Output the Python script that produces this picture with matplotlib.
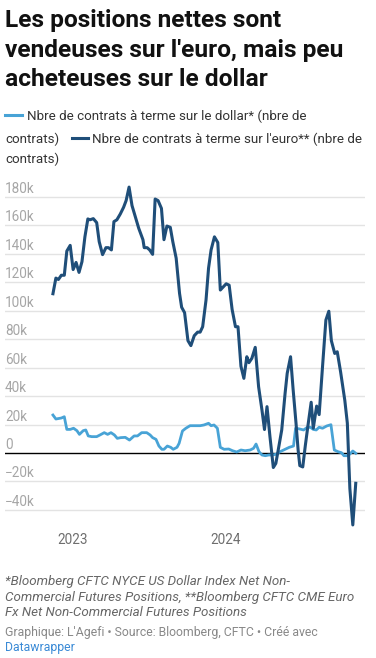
import matplotlib
matplotlib.use("Agg")
import matplotlib.pyplot as plt
from matplotlib.lines import Line2D
import pandas as pd

plt.rcParams['font.family'] = ['Roboto', 'DejaVu Sans']

# ---------------- data (values in thousands of contracts) ----------------
euro_dates = [
    "2022-11-16", "2022-11-23", "2022-11-29", "2022-12-06", "2022-12-13", "2022-12-19", "2022-12-27",
    "2023-01-03", "2023-01-10", "2023-01-17", "2023-01-24", "2023-01-31", "2023-02-07", "2023-02-12",
    "2023-02-20", "2023-02-28", "2023-03-06", "2023-03-14", "2023-03-22", "2023-03-28", "2023-04-04",
    "2023-04-10", "2023-04-17", "2023-04-25", "2023-05-03", "2023-05-09", "2023-05-16", "2023-05-23",
    "2023-05-31", "2023-06-08", "2023-06-18", "2023-06-21", "2023-06-28", "2023-07-04", "2023-07-11",
    "2023-07-17", "2023-07-24", "2023-08-01", "2023-08-07", "2023-08-14", "2023-08-22", "2023-08-28",
    "2023-09-05", "2023-09-13", "2023-09-18", "2023-09-25", "2023-10-03", "2023-10-10", "2023-10-18",
    "2023-10-26", "2023-11-01", "2023-11-07", "2023-11-15", "2023-11-21", "2023-11-27", "2023-12-05",
    "2023-12-13", "2023-12-19", "2023-12-25", "2024-01-02", "2024-01-09", "2024-01-16", "2024-01-24",
    "2024-01-30", "2024-02-06", "2024-02-13", "2024-02-20", "2024-02-25", "2024-03-03", "2024-03-11",
    "2024-03-19", "2024-03-27", "2024-04-02", "2024-04-08", "2024-04-15", "2024-04-23", "2024-04-29",
    "2024-05-07", "2024-05-13", "2024-05-21", "2024-05-26", "2024-06-03", "2024-06-09", "2024-06-16",
    "2024-06-21", "2024-06-25", "2024-07-02", "2024-07-08", "2024-07-14", "2024-07-22", "2024-07-27",
    "2024-08-04", "2024-08-10", "2024-08-18", "2024-08-26", "2024-09-02", "2024-09-08", "2024-09-16",
    "2024-09-22", "2024-09-30", "2024-10-10", "2024-10-16", "2024-10-22", "2024-10-29", "2024-11-05",
]
euro_values = [
    112, 123, 122, 125, 125, 142, 146,
    129, 134, 127, 134.5, 152, 164.6, 164,
    164.8, 162, 148.6, 139.5, 144.4, 144.4, 142.8,
    162.7, 164, 168, 172.8, 177.5, 187, 174,
    166, 158, 150, 144.4, 144.4, 142.8, 139.7,
    178.6, 177.5, 172, 150, 159.6, 158.7, 148.6,
    137, 112.3, 102.5, 98.7, 79, 75.5, 82.5,
    85, 85, 88.8, 107.6, 130, 142.8, 152,
    148, 114.6, 116.5, 119, 118, 101, 88.8,
    88.8, 61, 52.5, 67.7, 63.5, 66.6, 74.3,
    46.6, 30.2, 16.5, 32.6, 11.5, -10.2, -7.3,
    6, 16.2, 42, 56, 67.7, 45, 20.9,
    2, -8.9, -9.8, 5, 18.5, 35.7, 17.4,
    33, 27, 60.7, 93.5, 99.7, 79, 70,
    71.2, 57, 37, 21, -25, -50.6, -21.3,
]

dollar_dates = [
    "2022-11-16", "2022-11-23", "2022-12-06", "2022-12-13", "2022-12-19", "2022-12-27", "2023-01-04",
    "2023-01-12", "2023-01-18", "2023-01-27", "2023-02-02", "2023-02-08", "2023-02-16", "2023-02-28",
    "2023-03-08", "2023-03-18", "2023-03-26", "2023-04-03", "2023-04-11", "2023-04-18", "2023-04-26",
    "2023-05-07", "2023-05-17", "2023-05-28", "2023-06-05", "2023-06-15", "2023-06-27", "2023-07-05",
    "2023-07-11", "2023-07-19", "2023-07-26", "2023-08-02", "2023-08-07", "2023-08-15", "2023-08-23",
    "2023-08-29", "2023-09-07", "2023-09-12", "2023-09-20", "2023-09-28", "2023-10-08", "2023-10-20",
    "2023-11-01", "2023-11-10", "2023-11-21", "2023-11-27", "2023-12-04", "2023-12-12", "2023-12-19",
    "2023-12-28", "2024-01-08", "2024-01-17", "2024-01-27", "2024-02-06", "2024-02-16", "2024-02-28",
    "2024-03-07", "2024-03-13", "2024-03-20", "2024-03-27", "2024-04-04", "2024-04-12", "2024-04-21",
    "2024-04-30", "2024-05-09", "2024-05-21", "2024-05-31", "2024-06-10", "2024-06-15", "2024-06-23",
    "2024-07-04", "2024-07-12", "2024-07-20", "2024-07-27", "2024-08-03", "2024-08-10", "2024-08-18",
    "2024-08-28", "2024-09-07", "2024-09-15", "2024-09-24", "2024-10-02", "2024-10-08", "2024-10-18",
    "2024-10-29", "2024-11-05",
]
dollar_values = [
    26.7, 23.9, 24.6, 25.5, 16.6, 16.6, 17.4,
    15.7, 13.1, 15.7, 16.2, 12, 11.5, 11.5,
    12.7, 14.3, 13.1, 14.3, 12.7, 10.3, 10.8,
    11, 9.1, 12, 12, 14.3, 14.3, 12.7,
    10.8, 9.6, 4.9, 2.6, 2.6, 4.9, 4,
    2.6, 4, 6.8, 15.5, 17.4, 19.2, 19.2,
    19.2, 19.7, 20.9, 19.2, 19.7, 17.4, 4,
    2.6, 2.8, 1.6, 0.7, 2.1, 1.6, 2.1,
    3.3, 6.3, 0.9, -1.4, -1.9, -1.4, -1.4,
    -0.9, 0.9, 2.6, 4, 4.9, 17.4, 17,
    16.2, 17.9, 18.1, 16.6, 16.2, 18.1, 17.4,
    19, 19.9, 2.1, 0.9, 0.2, -1.9, -1.9,
    1.4, -0.2,
]

y_ticks = [-40, -20, 0, 20, 40, 60, 80, 100, 120, 140, 160, 180]
x_tick_dates = ["2023-01-01", "2024-01-01"]
x_tick_labels = ["2023", "2024"]

title_lines = ["Les positions nettes sont", "vendeuses sur l'euro, mais peu", "acheteuses sur le dollar"]
note_lines = ["*Bloomberg CFTC NYCE US Dollar Index Net Non-",
              "Commercial Futures Positions, **Bloomberg CFTC CME Euro",
              "Fx Net Non-Commercial Futures Positions"]
credit = "Graphique: L'Agefi • Source: Bloomberg, CFTC • Créé avec"
credit2 = "Datawrapper"

# ---------------- styles ----------------
W, H = 376, 658
PX = 0.72  # points per pixel at dpi 100
C_EURO = "#1f4e79"
C_DOLLAR = "#48a3d6"

fig = plt.figure(figsize=(W / 100, H / 100), dpi=100)
fig.patch.set_facecolor("white")


def ftext(x, y, s, **kw):
    fig.text(x / W, 1 - y / H, s, va="baseline", ha=kw.pop("ha", "left"), **kw)


# title
for i, line in enumerate(title_lines):
    ftext(5, 27 + i * 29.5, line, fontsize=24.5 * PX, fontweight="bold", color="#111111")

# legend
leg_fs = 13.4 * PX
leg_col = "#333333"
fig.add_artist(Line2D([5 / W, 22 / W], [1 - 115 / H] * 2, color=C_DOLLAR, lw=2.2))
ftext(27, 120, "Nbre de contrats à terme sur le dollar* (nbre de", fontsize=leg_fs, color=leg_col)
ftext(5, 143, "contrats)", fontsize=leg_fs, color=leg_col)
fig.add_artist(Line2D([72 / W, 88 / W], [1 - 138 / H] * 2, color=C_EURO, lw=2.2))
ftext(92, 143, "Nbre de contrats à terme sur l'euro** (nbre de", fontsize=leg_fs, color=leg_col)
ftext(5, 163, "contrats)", fontsize=leg_fs, color=leg_col)

# axes
ax_top, ax_bot, ax_l, ax_r = 180, 530, 5, 365
ax = fig.add_axes([ax_l / W, 1 - ax_bot / H, (ax_r - ax_l) / W, (ax_bot - ax_top) / H])
ax.set_facecolor("none")
ax.set_xlim(pd.Timestamp("2022-07-25"), pd.Timestamp("2024-11-27"))
ax.set_ylim(-54.15, 191.98)
for s in ax.spines.values():
    s.set_visible(False)
ax.set_xticks([])
ax.set_yticks([])

for v in y_ticks:
    if v == 0:
        ax.axhline(0, color="#000000", lw=1.0, zorder=3)
    else:
        ax.axhline(v, color="#e3e3e3", lw=1.0, zorder=1)
    lab = ("\u2212" + f"{-v}k") if v < 0 else ("0" if v == 0 else f"{v}k")
    ax.annotate(lab, xy=(0, v), xycoords=("axes fraction", "data"),
                xytext=(0, 4 * PX), textcoords="offset points",
                ha="left", va="baseline", fontsize=13.5 * PX, color="#a6a6a6")

for d, lab in zip(x_tick_dates, x_tick_labels):
    ax.annotate(lab, xy=(pd.Timestamp(d), 0), xycoords=("data", "axes fraction"),
                xytext=(0, -14 * PX), textcoords="offset points",
                ha="center", va="baseline", fontsize=13.5 * PX, color="#6e6e6e")

ax.plot(pd.to_datetime(dollar_dates), dollar_values, color=C_DOLLAR, lw=2.0,
        solid_joinstyle="round", zorder=4)
ax.plot(pd.to_datetime(euro_dates), euro_values, color=C_EURO, lw=2.2,
        solid_joinstyle="round", zorder=5)

# notes
for i, line in enumerate(note_lines):
    ftext(5, 585 + i * 15.5, line, fontsize=13.4 * PX, style="italic", color="#666666")
ftext(5, 636, credit, fontsize=12.2 * PX, color="#888888")
ftext(5, 651, credit2, fontsize=12.2 * PX, color="#3a8ad6")

fig.savefig("out.png", dpi=100, facecolor="white")
